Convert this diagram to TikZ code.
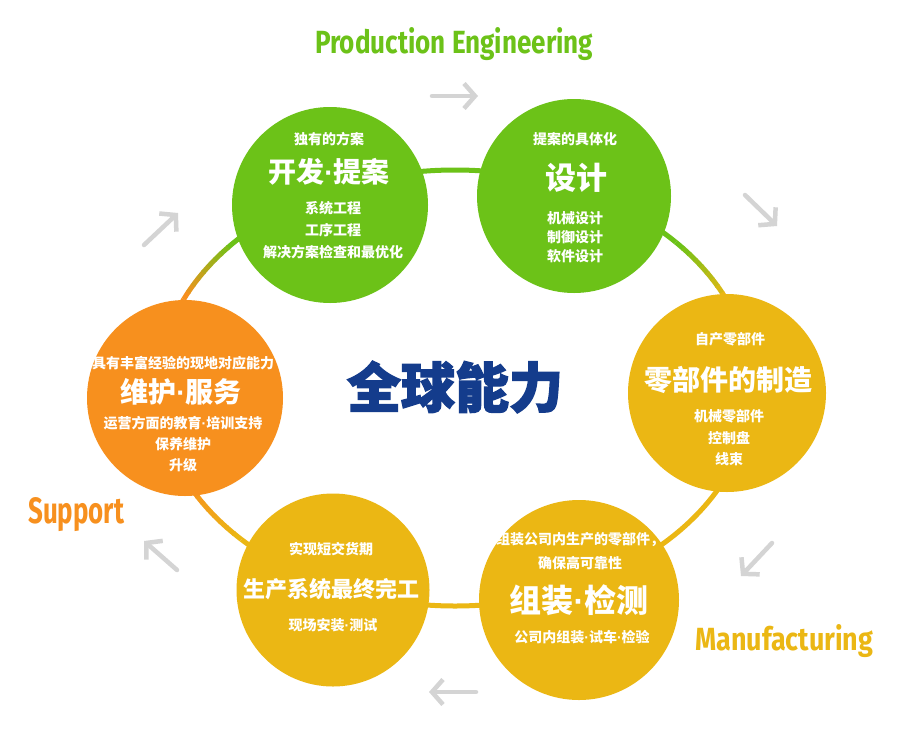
\documentclass[tikz,border=0pt]{standalone}
\usepackage{fontspec}
\usepackage{graphicx}
\usetikzlibrary{arrows.meta,positioning}

\newfontfamily\cjk{Noto Sans CJK SC}
\newfontfamily\cjkheavy{Noto Sans CJK SC}[BoldFeatures={FakeBold=2.5}]
\newfontfamily\headfont{Fira Sans}
\newfontfamily\dotfont{Liberation Sans}
\newcommand\pdot{{\dotfont\bfseries\char"00B7}}

\definecolor{pegreen}{HTML}{6CC218}
\definecolor{mfyellow}{HTML}{EBB714}
\definecolor{suporange}{HTML}{F7901E}
\definecolor{globalblue}{HTML}{143C8C}
\definecolor{arrowgray}{HTML}{D4D4D4}

\tikzset{
  stage/.style={circle, fill=#1, inner sep=0pt},
  note/.style={text=white, font=\cjk\bfseries\fontsize{14}{#1}\selectfont, align=center, inner sep=0pt},
  note/.default=21,
  headline/.style={text=white, font=\cjk\bfseries\fontsize{#1}{#1}\selectfont, inner sep=0pt},
  turn/.style={draw=arrowgray, line width=4.5pt, line cap=round, line join=round,
    -{Straight Barb[length=11pt,width=25pt]}},
  ring/.style={line width=5pt},
  phase/.style={text=#1, font=\headfont\bfseries, inner sep=0pt, anchor=base west}
}

\begin{document}
\begin{tikzpicture}[x=1pt,y=-1pt]
\useasboundingbox (0,0) rectangle (909,739);
\fill[white] (0,0) rectangle (909,739);

% ring behind the stages
\coordinate (hub) at (455,388);
\draw[ring, pegreen] (hub) ++(220:297 and 218) arc[start angle=220, end angle=318, x radius=297, y radius=218];
\foreach \i in {0,...,7}{
  \pgfmathtruncatemacro\p{100-12*\i}
  \pgfmathsetmacro\a{318+2*\i}
  \draw[ring, pegreen!\p!mfyellow] (hub) ++(\a:297 and 218) arc[start angle=\a, end angle=\a+2.2, x radius=297, y radius=218];
}
\draw[ring, mfyellow] (hub) ++(334:297 and 218) arc[start angle=334, end angle=496, x radius=297, y radius=218];
\foreach \i in {0,...,7}{
  \pgfmathtruncatemacro\p{100-12*\i}
  \pgfmathsetmacro\a{136+2*\i}
  \draw[ring, mfyellow!\p!suporange] (hub) ++(\a:297 and 218) arc[start angle=\a, end angle=\a+2.2, x radius=297, y radius=218];
}
\draw[ring, suporange] (hub) ++(152:297 and 218) arc[start angle=152, end angle=204, x radius=297, y radius=218];
\foreach \i in {0,...,7}{
  \pgfmathtruncatemacro\p{100-12*\i}
  \pgfmathsetmacro\a{204+2*\i}
  \draw[ring, suporange!\p!pegreen] (hub) ++(\a:297 and 218) arc[start angle=\a, end angle=\a+2.2, x radius=297, y radius=218];
}

% stages
\node[stage=pegreen, minimum size=196pt] (devel) at (330,205) {};
\node[stage=pegreen, minimum size=194pt] (design) at (574,196) {};
\node[stage=mfyellow, minimum size=198pt] (parts) at (727,393) {};
\node[stage=mfyellow, minimum size=200pt] (assembly) at (579,600) {};
\node[stage=mfyellow, minimum size=193pt] (install) at (333,590) {};
\node[stage=suporange, minimum size=196pt] (service) at (185,398) {};

% texts
\node[note] (develsub) at (329,139) {独有的方案};
\node[headline=28] (develttl) at (329,172) {开发\pdot 提案};
\node[note=22] (devellist) at (333,230) {系统工程\\工序工程\\解决方案检查和最优化};

\node[note] (designsub) at (575,139) {提案的具体化};
\node[headline=31] (designttl) at (576,178) {设计};
\node[note=19] (designlist) at (575,237) {机械设计\\制御设计\\软件设计};

\node[note] (partssub) at (730,339) {自产零部件};
\node[headline=28] (partsttl) at (728,380) {零部件的制造};
\node[note=21.5] (partslist) at (729,438) {机械零部件\\控制盘\\线束};

\node[note=24] (assemblysub) at (580,551) {组装公司内生产的零部件，\\确保高可靠性};
\node[headline=32] (assemblyttl) at (579,600) {组装\pdot 检测};
\node[note] (assemblylist) at (582,637) {公司内组装\pdot 试车\pdot 检验};

\node[note] (installsub) at (331,549) {实现短交货期};
\node[headline=22] (installttl) at (331,589) {生产系统最终完工};
\node[note] (installlist) at (333,625) {现场安装\pdot 测试};

\node[note] (servicesub) at (183,363) {具有丰富经验的现地对应能力};
\node[headline=28] (servicettl) at (181,392) {维护\pdot 服务};
\node[note=21] (servicelist) at (183,444) {运营方面的教育\pdot 培训支持\\保养维护\\升级};

\node[text=globalblue, font=\cjkheavy\bfseries\fontsize{54}{54}\selectfont, inner sep=0pt] (global) at (455,387) {全球能力};

% phase labels
\node[phase=pegreen] (engineering) at (315,53) {\resizebox{278pt}{26pt}{Production Engineering}};
\node[phase=suporange] (support) at (28,523) {\resizebox{96pt}{26pt}{Support}};
\node[phase=mfyellow] (manufacturing) at (695,650) {\resizebox{178pt}{26pt}{Manufacturing}};

% direction arrows
\coordinate (t1) at (432,96);  \coordinate (t2) at (478,96);
\coordinate (r1) at (745,195); \coordinate (r2) at (777,226);
\coordinate (b1) at (772,543); \coordinate (b2) at (741,576);
\coordinate (u1) at (476,692); \coordinate (u2) at (429,692);
\coordinate (l1) at (177,570); \coordinate (l2) at (144,541);
\coordinate (k1) at (144,245); \coordinate (k2) at (178,213);
\draw[turn] (t1) -- (t2);
\draw[turn] (r1) -- (r2);
\draw[turn] (b1) -- (b2);
\draw[turn] (u1) -- (u2);
\draw[turn] (l1) -- (l2);
\draw[turn] (k1) -- (k2);
\end{tikzpicture}
\end{document}
